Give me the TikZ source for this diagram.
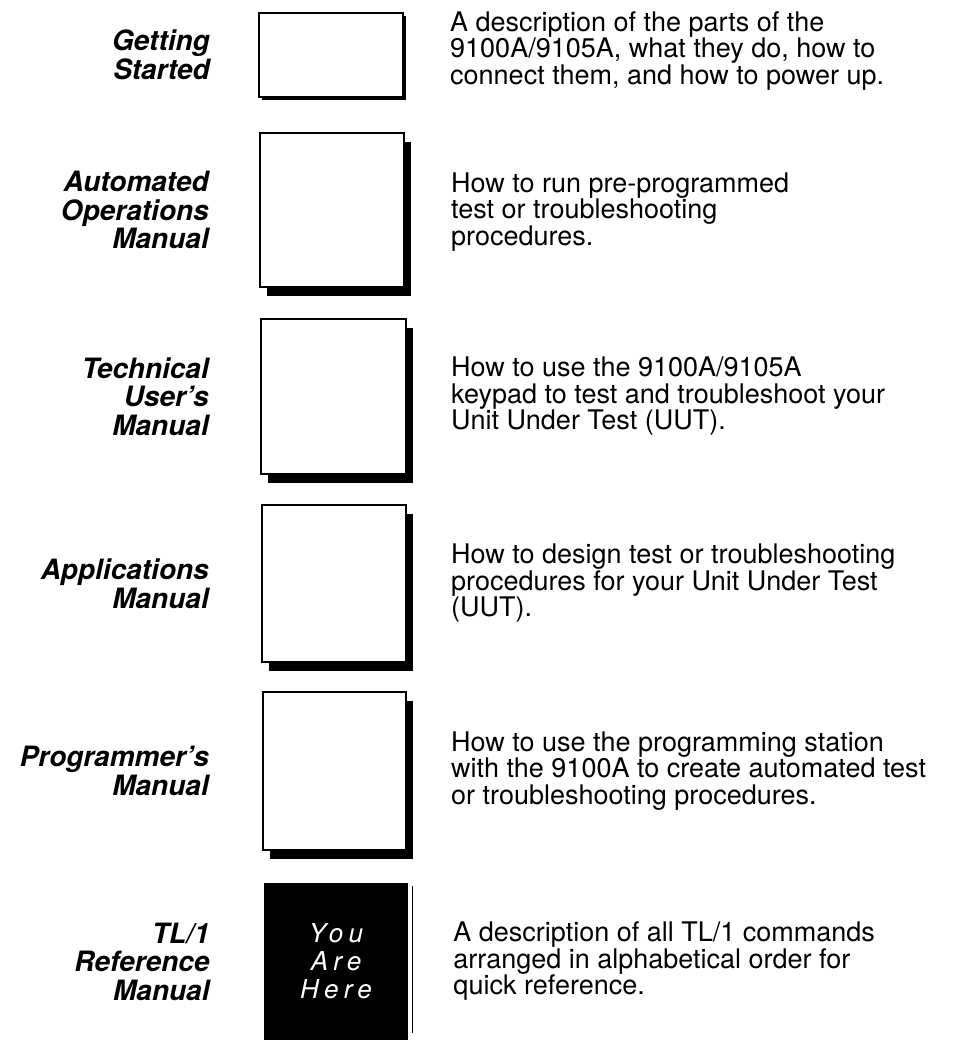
\documentclass[tikz,border=0pt]{standalone}
\usepackage{fontspec}
\setmainfont{TeX Gyre Heros}
\usetikzlibrary{positioning,shadows,calc}

\begin{document}
\begin{tikzpicture}[
        x=1pt, y=-1pt,
        manual/.style={draw, line width=2pt, fill=white, minimum width=144pt, minimum height=155pt, inner sep=0pt},
        shadowed/.style={drop shadow={shadow xshift=7pt, shadow yshift=-9pt, fill=black, opacity=1}},
        title/.style={font=\fontsize{28}{28.5}\selectfont\bfseries\itshape, align=right, inner sep=0pt},
        desc/.style={font=\fontsize{27}{26.5}\selectfont, align=left, inner sep=0pt},
        here/.style={fill=black, text=white, minimum width=144pt, minimum height=157pt, inner sep=0pt, align=center,
            font=\fontsize{26}{28}\selectfont\itshape\addfontfeature{LetterSpace=20}}
    ]
    \useasboundingbox (0,0) rectangle (960,1042);

    % manual boxes
    \node[manual, minimum height=84pt, drop shadow={shadow xshift=3pt, shadow yshift=-3pt, fill=black, opacity=1}] (start) at (331,55) {};
    \node[manual, shadowed, minimum height=154pt] (autoops) at (332,210) {};
    \node[manual, shadowed, minimum width=145pt] (techuser) at (333.5,396.5) {};
    \node[manual, shadowed, minimum height=157pt] (apps) at (334,583.5) {};
    \node[manual, shadowed, minimum width=143pt, minimum height=158pt] (progman) at (334.5,771) {};
    \node[here] (tlref) at (336,961.5) {You\\Are\\Here};
    \draw[line width=1pt] ([xshift=4pt,yshift=-3pt]tlref.north east) -- ([xshift=4pt,yshift=7pt]tlref.south east);

    % manual titles
    \node[title, left=48pt of start] (startlbl) {Getting\\Started};
    \node[title, left=50pt of autoops] (autoopslbl) {Automated\\Operations\\Manual};
    \node[title, left=51pt of techuser] (techuserlbl) {Technical\\User's\\Manual};
    \node[title, left=52pt of apps] (appslbl) {Applications\\Manual};
    \node[title, left=53pt of progman] (progmanlbl) {Programmer's\\Manual};
    \node[title, left=54pt of tlref] (tlreflbl) {TL/1\\Reference\\Manual};

    % descriptions
    \node[desc, right=46pt of start, yshift=4pt] (startdesc) {A description of the parts of the\\9100A/9105A, what they do, how to\\connect them, and how to power up.};
    \node[desc, right=46pt of autoops, yshift=-2pt] (autoopsdesc) {How to run pre-programmed\\test or troubleshooting\\procedures.};
    \node[desc, right=44pt of techuser] (techuserdesc) {How to use the 9100A/9105A\\keypad to test and troubleshoot your\\Unit Under Test (UUT).};
    \node[desc, right=44pt of apps] (appsdesc) {How to design test or troubleshooting\\procedures for your Unit Under Test\\(UUT).};
    \node[desc, right=44pt of progman] (progmandesc) {How to use the programming station\\with the 9100A to create automated test\\or troubleshooting procedures.};
    \node[desc, right=45pt of tlref] (tlrefdesc) {A description of all TL/1 commands\\arranged in alphabetical order for\\quick reference.};

\end{tikzpicture}
\end{document}
